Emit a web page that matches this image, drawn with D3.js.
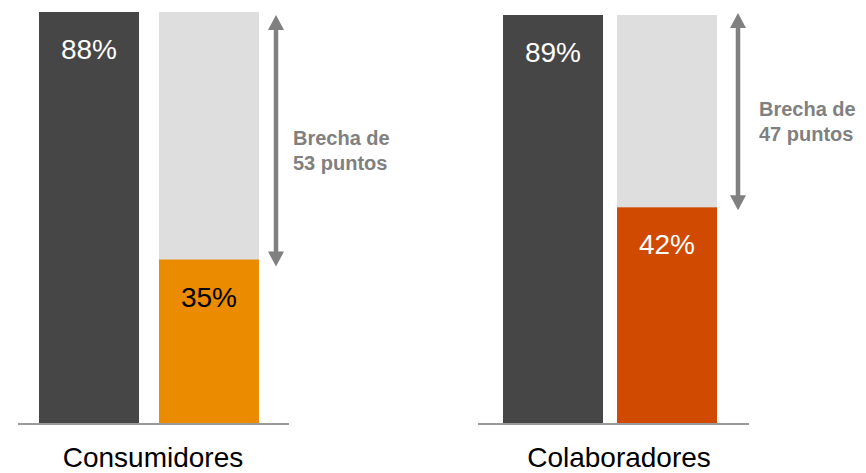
<!DOCTYPE html>
<html>
<head>
<meta charset="utf-8">
<script src="https://cdn.jsdelivr.net/npm/d3@7"></script>
<style>
  html, body { margin: 0; padding: 0; background: #fff; }
  svg { display: block; font-family: "Liberation Sans", Arial, sans-serif; }
</style>
</head>
<body>
<svg id="chart" width="866" height="473"></svg>
<script>
// ---- data ----
const categories = ["Consumidores", "Colaboradores"];
const highValues = [88, 89];
const lowValues = [35, 42];
const barKeys = ["high", "low"];

// ---- layout (not data) ----
const panels = [
  { x0: 39, x1: 259, pad: 20 / 120, yTop: 12, domainMin: 0,
    lineX0: 18, lineX1: 289, arrowX: 276, arrowOff: [3, 7], textX: 293, catX: 153, catY: 467,
    lowColor: "#eb8c00", lowText: "#000000" },
  { x0: 503, x1: 717, pad: 14 / 114, yTop: 15, domainMin: -10.7,
    lineX0: 478, lineX1: 749, arrowX: 738, arrowOff: [-2, 3], textX: 759, catX: 619, catY: 467,
    lowColor: "#d04a02", lowText: "#ffffff" }
];
const baseY = 423;
const darkColor = "#464646";
const bgColor = "#dedede";
const arrowColor = "#808080";

const svg = d3.select("#chart");

categories.forEach((cat, i) => {
  const p = panels[i];
  const hi = highValues[i], lo = lowValues[i];
  const x = d3.scaleBand().domain(barKeys).range([p.x0, p.x1]).paddingInner(p.pad);
  const y = d3.scaleLinear().domain([p.domainMin, hi]).range([baseY, p.yTop]);
  const g = svg.append("g");

  // background bar (full height of high value)
  g.append("rect")
    .attr("x", x("low")).attr("width", x.bandwidth())
    .attr("y", y(hi)).attr("height", y(p.domainMin) - y(hi))
    .attr("fill", bgColor);

  const bars = [{ k: "high", v: hi, c: darkColor, t: "#ffffff" },
                { k: "low", v: lo, c: p.lowColor, t: p.lowText }];
  g.selectAll("rect.bar").data(bars).enter().append("rect")
    .attr("class", "bar")
    .attr("x", d => x(d.k)).attr("width", x.bandwidth())
    .attr("y", d => y(d.v)).attr("height", d => y(p.domainMin) - y(d.v))
    .attr("fill", d => d.c);

  g.selectAll("text.val").data(bars).enter().append("text")
    .attr("class", "val")
    .attr("x", d => x(d.k) + x.bandwidth() / 2)
    .attr("y", d => y(d.v) + 47)
    .attr("text-anchor", "middle")
    .attr("font-size", 28)
    .attr("fill", d => d.t)
    .text(d => d.v + "%");

  // baseline
  g.append("line")
    .attr("x1", p.lineX0).attr("x2", p.lineX1)
    .attr("y1", baseY + 1).attr("y2", baseY + 1)
    .attr("stroke", "#9a9a9a").attr("stroke-width", 2.2);

  // category label
  g.append("text")
    .attr("x", p.catX).attr("y", p.catY)
    .attr("text-anchor", "middle")
    .attr("font-size", 28)
    .attr("fill", "#000")
    .text(cat);

  // double arrow
  const top = y(hi) + p.arrowOff[0];
  const bot = y(lo) + p.arrowOff[1];
  const hw = 8, hh = 15;
  g.append("line")
    .attr("x1", p.arrowX).attr("x2", p.arrowX)
    .attr("y1", top + hh - 1).attr("y2", bot - hh + 1)
    .attr("stroke", arrowColor).attr("stroke-width", 4.5);
  g.append("path")
    .attr("d", `M${p.arrowX},${top} L${p.arrowX + hw},${top + hh} L${p.arrowX - hw},${top + hh} Z`)
    .attr("fill", arrowColor);
  g.append("path")
    .attr("d", `M${p.arrowX},${bot} L${p.arrowX + hw},${bot - hh} L${p.arrowX - hw},${bot - hh} Z`)
    .attr("fill", arrowColor);

  // gap text
  const mid = (top + bot) / 2;
  const t = g.append("text")
    .attr("x", p.textX).attr("y", mid + 4)
    .attr("font-size", 20).attr("font-weight", "bold")
    .attr("fill", arrowColor);
  t.append("tspan").attr("x", p.textX).text("Brecha de");
  t.append("tspan").attr("x", p.textX).attr("dy", 25).text((hi - lo) + " puntos");
});
</script>
</body>
</html>
